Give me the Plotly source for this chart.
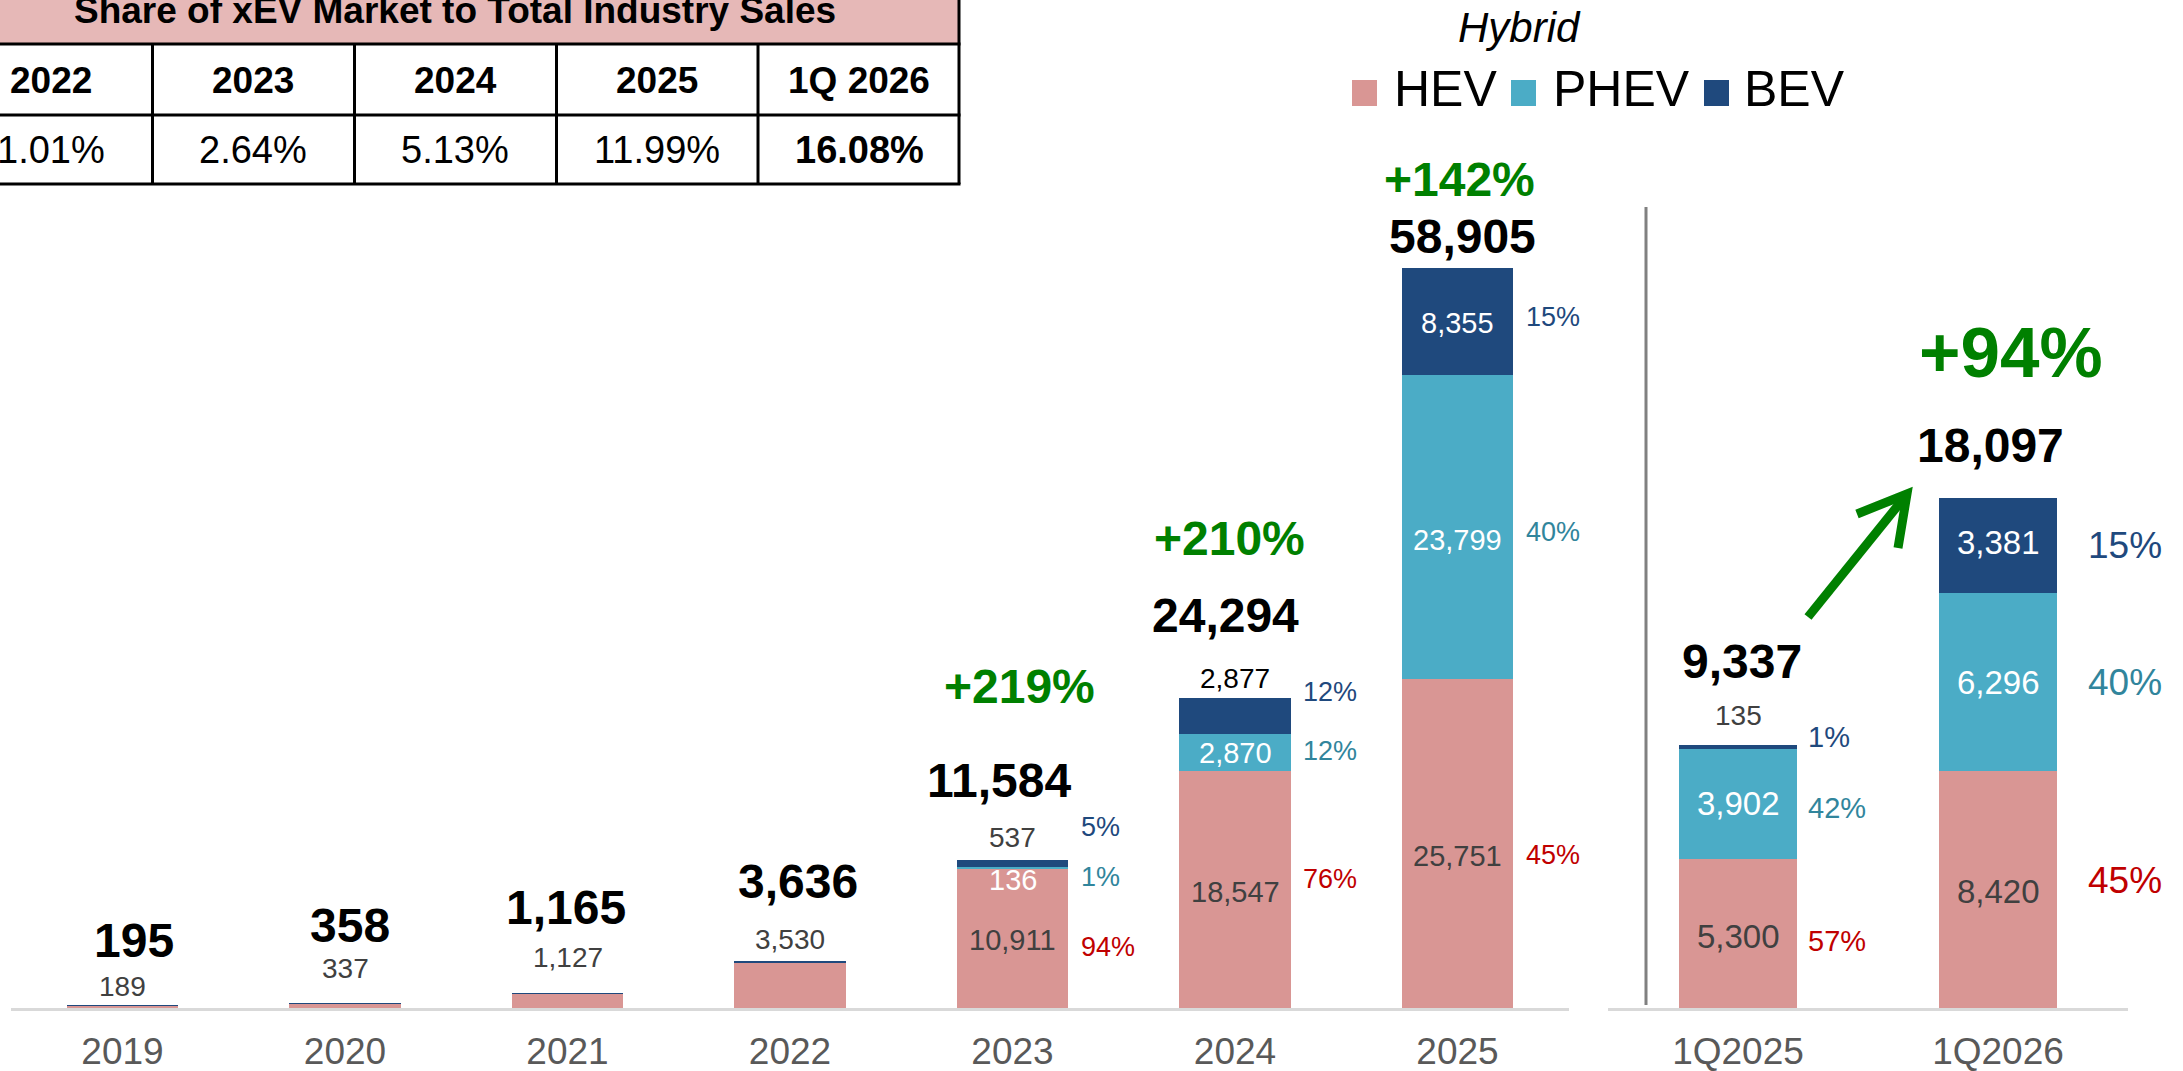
import plotly.graph_objects as go

W, H = 2183, 1071
FONT = "Liberation Sans, Arial, sans-serif"

# ---------------- data ----------------
years = ["2019", "2020", "2021", "2022", "2023", "2024", "2025"]
hev_annual = [189, 337, 1127, 3530, 10911, 18547, 25751]
phev_annual = [2, 7, 12, 36, 136, 2870, 23799]
bev_annual = [4, 14, 26, 70, 537, 2877, 8355]
total_annual_labels = [195, 358, 1165, 3636, 11584, 24294, 58905]
pct_hev_annual = [None, None, None, None, 94, 76, 45]
pct_phev_annual = [None, None, None, None, 1, 12, 40]
pct_bev_annual = [None, None, None, None, 5, 12, 15]
growth_annual = [None, None, None, None, "+219%", "+210%", "+142%"]

quarters = ["1Q2025", "1Q2026"]
hev_q = [5300, 8420]
phev_q = [3902, 6296]
bev_q = [135, 3381]
total_q_labels = [9337, 18097]
pct_hev_q = [57, 45]
pct_phev_q = [42, 40]
pct_bev_q = [1, 15]
growth_q = [None, "+94%"]

share_title = "Share of xEV Market to Total Industry Sales"
share_periods = ["2022", "2023", "2024", "2025", "1Q 2026"]
share_values = [1.01, 2.64, 5.13, 11.99, 16.08]

# ---------------- style ----------------
C_HEV, C_PHEV, C_BEV = "#D99694", "#4BACC6", "#1F497D"
T_HEV, T_PHEV, T_BEV = "#C00000", "#31859C", "#1F497D"
GREEN, GREY, AXIS_TXT = "#008000", "#404040", "#595959"

Y0_PX, Y1_PX = 1008, 108
LEFT_UPP, RIGHT_UPP = 78.3, 35.5


def px(x):
    return x / W


def py(y):
    return 1 - y / H


annotations = []
shapes = []


def add_text(text, x, y, size, color, xref="paper", yref="paper", bold=False,
             italic=False, xanchor="center", yanchor="middle", xshift=0, yshift=0):
    if bold:
        text = f"<b>{text}</b>"
    if italic:
        text = f"<i>{text}</i>"
    annotations.append(dict(text=text, x=x, y=y, xref=xref, yref=yref, showarrow=False,
                            font=dict(family=FONT, size=size, color=color),
                            xanchor=xanchor, yanchor=yanchor, xshift=xshift, yshift=yshift))


fig = go.Figure()
for name, vals, col in [("HEV", hev_annual, C_HEV), ("PHEV", phev_annual, C_PHEV), ("BEV", bev_annual, C_BEV)]:
    fig.add_trace(go.Bar(x=years, y=vals, name=name, width=0.5,
                         marker=dict(color=col, line=dict(width=0)),
                         xaxis="x", yaxis="y", showlegend=False, hoverinfo="skip"))
for name, vals, col in [("HEV", hev_q, C_HEV), ("PHEV", phev_q, C_PHEV), ("BEV", bev_q, C_BEV)]:
    fig.add_trace(go.Bar(x=quarters, y=vals, name=name, width=0.454,
                         marker=dict(color=col, line=dict(width=0)),
                         xaxis="x2", yaxis="y2", showlegend=False, hoverinfo="skip"))

# value label placement: (mode, px shift, colour)
val_style = {
    ("2019", "HEV"): ("top", 19.5, GREY),
    ("2020", "HEV"): ("top", 34.5, GREY),
    ("2021", "HEV"): ("top", 36, GREY),
    ("2022", "HEV"): ("top", 22.5, GREY),
    ("2023", "HEV"): ("mid", 2, GREY),
    ("2023", "PHEV"): ("mid", 12, "white"),
    ("2023", "BEV"): ("top", 23, GREY),
    ("2024", "HEV"): ("mid", 2, GREY),
    ("2024", "PHEV"): ("mid", 0, "white"),
    ("2024", "BEV"): ("top", 19, "black"),
    ("2025", "HEV"): ("mid", 12, GREY),
    ("2025", "PHEV"): ("mid", 13, "white"),
    ("2025", "BEV"): ("mid", 1, "white"),
    ("1Q2025", "HEV"): ("mid", 3, GREY),
    ("1Q2025", "PHEV"): ("mid", 0, "white"),
    ("1Q2025", "BEV"): ("top", 29, GREY),
    ("1Q2026", "HEV"): ("mid", 2, GREY),
    ("1Q2026", "PHEV"): ("mid", 0, "white"),
    ("1Q2026", "BEV"): ("mid", -3, "white"),
}
pct_shift = {
    ("2023", "HEV"): 9, ("2023", "PHEV"): 9, ("2023", "BEV"): -36.5,
    ("2024", "HEV"): -10.6, ("2024", "PHEV"): -2, ("2024", "BEV"): -24,
    ("2025", "HEV"): 11.4, ("2025", "PHEV"): 5, ("2025", "BEV"): -5,
    ("1Q2025", "HEV"): 7.6, ("1Q2025", "PHEV"): 4.3, ("1Q2025", "BEV"): -10,
    ("1Q2026", "HEV"): -9.4, ("1Q2026", "PHEV"): 0, ("1Q2026", "BEV"): 0,
}
total_shift_annual = [(11, 65.5), (5, 78.4), (-2, 85.6), (8, 79.6), (-14, 80), (-10, 82), (5, 32)]
total_shift_q = [(4, 83), (-8, 53)]
growth_shift_annual = [None, None, None, None, (6.5, 174), (-6, 159), (1.5, 88.5)]
growth_shift_q = [None, (13, 146)]


def label_group(cats, hev, phev, bev, totals, p_h, p_p, p_b, growth, tshift, gshift,
                xref, yref, val_size, pct_sizes, pct_xs, growth_size):
    for i, c in enumerate(cats):
        segs = [("HEV", hev[i], p_h[i], T_HEV), ("PHEV", phev[i], p_p[i], T_PHEV), ("BEV", bev[i], p_b[i], T_BEV)]
        top = hev[i] + phev[i] + bev[i]
        base = 0
        for seg, v, pct, pcol in segs:
            mid = base + v / 2
            base += v
            st = val_style.get((c, seg))
            if st:
                mode, sh, col = st
                size = val_size if mode == "mid" else 28
                if mode == "mid":
                    add_text(f"{v:,}", i, mid, size, col, xref, yref, yshift=-sh)
                else:
                    add_text(f"{v:,}", i, top, size, col, xref, yref, yshift=sh)
            if pct is not None:
                add_text(f"{pct}%", i, mid, pct_sizes[i], pcol, xref, yref, xanchor="left",
                         xshift=pct_xs[i], yshift=-pct_shift[(c, seg)])
        dx, dy = tshift[i]
        add_text(f"{totals[i]:,}", i, top, 48, "black", xref, yref, bold=True, xshift=dx, yshift=dy)
        if growth[i]:
            gx, gy = gshift[i]
            add_text(growth[i], i, top, growth_size[i], GREEN, xref, yref, bold=True, xshift=gx, yshift=gy)


label_group(years, hev_annual, phev_annual, bev_annual, total_annual_labels,
            pct_hev_annual, pct_phev_annual, pct_bev_annual, growth_annual,
            total_shift_annual, growth_shift_annual, "x", "y", 29,
            [27] * 7, [66] * 7, [48] * 7)
label_group(quarters, hev_q, phev_q, bev_q, total_q_labels,
            pct_hev_q, pct_phev_q, pct_bev_q, growth_q,
            total_shift_q, growth_shift_q, "x2", "y2", 33,
            [29, 37], [68, 88], [48, 71])

# ---------------- table ----------------
LINE = dict(color="black", width=3)
shapes.append(dict(type="rect", xref="paper", yref="paper", x0=-0.01, x1=px(959), y0=py(44), y1=py(-10),
                   fillcolor="#E6B8B7", line=dict(width=0), layer="below"))
for yy in [44, 115, 184]:
    shapes.append(dict(type="line", xref="paper", yref="paper", x0=-0.01, x1=px(960.5), y0=py(yy), y1=py(yy), line=LINE))
for xx in [152.5, 354.5, 556.5, 758]:
    shapes.append(dict(type="line", xref="paper", yref="paper", x0=px(xx), x1=px(xx), y0=py(44), y1=py(184), line=LINE))
shapes.append(dict(type="line", xref="paper", yref="paper", x0=px(959), x1=px(959), y0=py(-10), y1=py(184), line=LINE))
add_text(share_title, px(455), py(11), 37, "black", bold=True)
col_w = 202
for j, (per, val) in enumerate(zip(share_periods, share_values)):
    cx = -50 + col_w * (j + 0.5)
    add_text(per, px(cx), py(80.5), 37, "black", bold=True)
    add_text(f"{val:.2f}%", px(cx), py(150.5), 38, "black", bold=(j == len(share_periods) - 1))

# ---------------- legend ----------------
add_text("Hybrid", px(1519), py(27.5), 42, "black", italic=True)
for name, col, sx, tx in [("HEV", C_HEV, 1352, 1392), ("PHEV", C_PHEV, 1511, 1551), ("BEV", C_BEV, 1704, 1742)]:
    shapes.append(dict(type="rect", xref="paper", yref="paper", x0=px(sx), x1=px(sx + 25),
                       y0=py(106), y1=py(80), fillcolor=col, line=dict(width=0)))
    add_text(name, px(tx), py(89), 50, "black", xanchor="left")

# ---------------- separator & arrow ----------------
shapes.append(dict(type="line", xref="paper", yref="paper", x0=px(1646), x1=px(1646), y0=py(207), y1=py(1005),
                   line=dict(color="#808080", width=3)))
tail, tip, arm1, arm2 = (1808, 617), (1907, 494), (1857, 514), (1898, 548)
shapes.append(dict(type="path", xref="paper", yref="paper",
                   path=f"M {px(tail[0])} {py(tail[1])} L {px(tip[0] - 3)} {py(tip[1] + 4)}",
                   line=dict(color=GREEN, width=9)))
shapes.append(dict(type="path", xref="paper", yref="paper",
                   path=f"M {px(arm1[0])} {py(arm1[1])} L {px(tip[0])} {py(tip[1])} L {px(arm2[0])} {py(arm2[1])}",
                   line=dict(color=GREEN, width=9)))

ydom = [py(Y0_PX), py(Y1_PX)]
span = Y0_PX - Y1_PX
axis_common = dict(type="category", showgrid=False, zeroline=False, ticks="",
                   showline=True, linecolor="#D9D9D9", linewidth=3, automargin=False,
                   tickfont=dict(family=FONT, size=37, color=AXIS_TXT), ticklabelstandoff=9,
                   fixedrange=True)
fig.update_layout(
    width=W, height=H, margin=dict(l=0, r=0, t=0, b=0, pad=0, autoexpand=False),
    paper_bgcolor="white", plot_bgcolor="white",
    barmode="stack", showlegend=False,
    xaxis=dict(domain=[px(11.25), px(1568.75)], anchor="y", range=[-0.5, 6.5], **axis_common),
    xaxis2=dict(domain=[px(1608), px(2128)], anchor="y2", range=[-0.5, 1.5], **axis_common),
    yaxis=dict(domain=ydom, range=[0, span * LEFT_UPP], visible=False, fixedrange=True, automargin=False),
    yaxis2=dict(domain=ydom, range=[0, span * RIGHT_UPP], visible=False, fixedrange=True, anchor="x2",
                automargin=False),
    annotations=annotations, shapes=shapes,
)

fig.write_html("out.html", config={"displayModeBar": False},
               post_script="document.body.style.margin='0';document.body.style.overflow='hidden';")
